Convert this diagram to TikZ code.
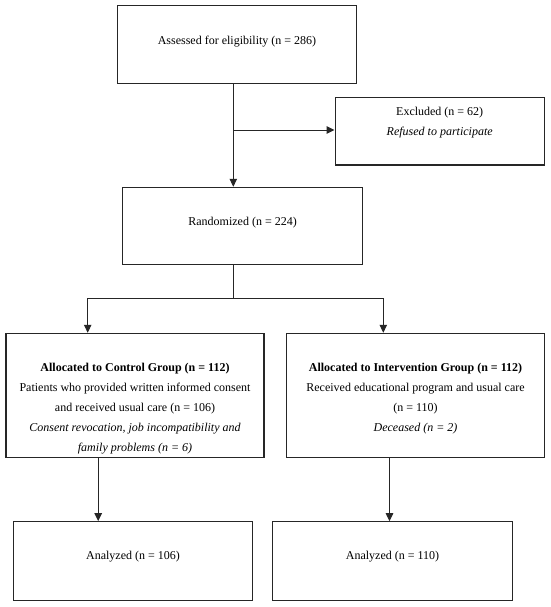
\documentclass[tikz,border=0pt]{standalone}
\usepackage{fontspec}
\setmainfont{Liberation Serif}
\usetikzlibrary{arrows.meta}
\begin{document}
\begin{tikzpicture}[x=1pt,y=-1pt,
 box/.style={draw=black!85,line width=1.1pt,inner sep=0pt,rectangle},
 txt/.style={font=\fontsize{12}{20}\selectfont,align=center,inner sep=0pt},
 arr/.style={draw=black!85,line width=1pt,-{Triangle[length=8pt,width=7.5pt]}},
 ln/.style={draw=black!85,line width=1pt}]
\useasboundingbox (0,0) rectangle (550,607);
\fill[white] (0,0) rectangle (550,607);
% boxes
\node[box,minimum width=239.4pt,minimum height=77.6pt] (assess) at (237,44.5) {};
\node[box,minimum width=209.3pt,minimum height=67.5pt] (excl) at (439.7,131.25) {};
\node[box,minimum width=240.2pt,minimum height=77.4pt] (rand) at (242.6,226) {};
\node[box,minimum width=258pt,minimum height=124.2pt] (ctrl) at (135,395.4) {};
\node[box,minimum width=258pt,minimum height=124.2pt] (int) at (415.5,395.4) {};
\node[box,minimum width=239.3pt,minimum height=78.8pt] (an1) at (133,561.1) {};
\node[box,minimum width=239.7pt,minimum height=78.3pt] (an2) at (392.5,560.9) {};
% texts
\node[txt] (t1) at (237,41.7) {Assessed for eligibility (n = 286)};
\node[txt] (t2) at (439.7,123) {Excluded (n = 62)\\\textit{Refused to participate}};
\node[txt] (t3) at (242.6,222.7) {Randomized (n = 224)};
\node[txt] (t4) at (135,408.3) {\textbf{Allocated to Control Group (n = 112)}\\Patients who provided written informed consent\\and received usual care (n = 106)\\\textit{Consent revocation, job incompatibility and}\\\textit{family problems (n = 6)}};
\node[txt] (t5) at (415.5,398.3) {\textbf{Allocated to Intervention Group (n = 112)}\\Received educational program and usual care\\(n = 110)\\\textit{Deceased (n = 2)}};
\node[txt] (t6) at (133,557) {Analyzed (n = 106)};
\node[txt] (t7) at (392.5,557) {Analyzed (n = 110)};
% connector coordinates
\coordinate (xa) at (233.3,0);
\coordinate (j1) at (233.3,130);
\coordinate (bl) at (87.7,298.3);
\coordinate (bm) at (233.3,298.3);
\coordinate (br) at (383.3,298.3);
\coordinate (xl) at (98.2,0);
\coordinate (xr) at (389.5,0);
% connectors
\draw[arr] (xa |- assess.south) -- (xa |- rand.north);
\draw[arr] (j1) -- (j1 -| excl.west);
\draw[ln] (xa |- rand.south) -- (bm);
\draw[ln] (bl) -- (br);
\draw[arr] (bl) -- (bl |- ctrl.north);
\draw[arr] (br) -- (br |- int.north);
\draw[arr] (xl |- ctrl.south) -- (xl |- an1.north);
\draw[arr] (xr |- int.south) -- (xr |- an2.north);
\end{tikzpicture}
\end{document}
